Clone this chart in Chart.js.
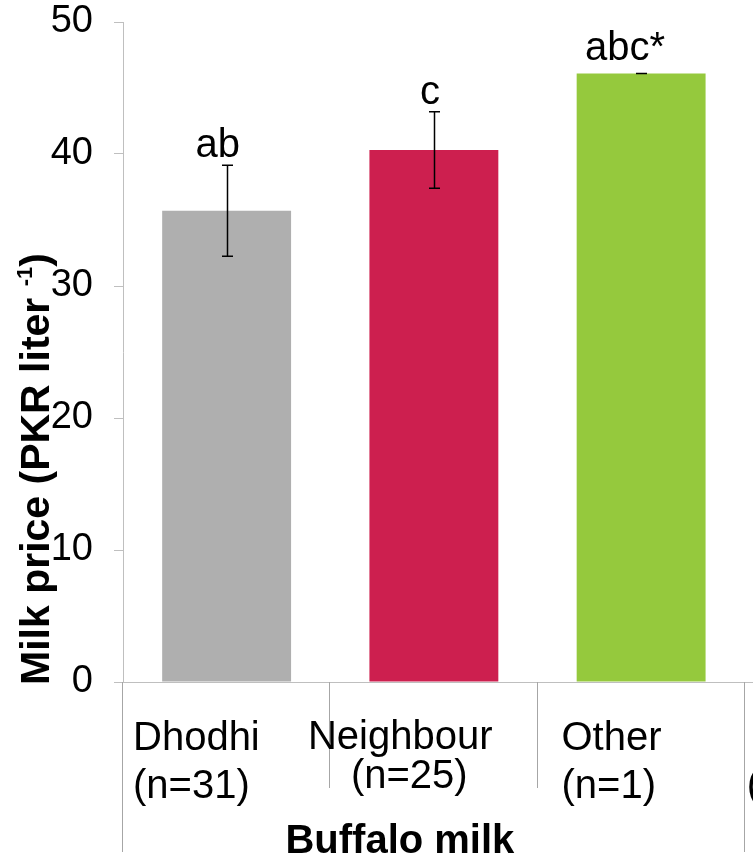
<!DOCTYPE html>
<html>
<head>
<meta charset="utf-8">
<script src="https://cdn.jsdelivr.net/npm/chart.js@4"></script>
<style>
  html, body { margin: 0; padding: 0; background: #fff; }
  #wrap { width: 753px; height: 857px; overflow: hidden; }
</style>
</head>
<body>
<div id="wrap"><canvas id="milkChart" width="952" height="857"></canvas></div>
<script>
// data (4th category is cut off at the right edge)
const categories = [['Dhodhi', '(n=31)'], ['Neighbour', '(n=25)'], ['Other', '(n=1)'], ['', '(']];
const priceMean = [35.7, 40.3, 46.1, null];
const priceSD = [3.45, 2.9, 0, null];
const letters = ['ab', 'c', 'abc*', ''];
const barColors = ['#afafaf', '#cd1f4f', '#95c93d', '#ffffff'];
const yTicks = [0, 10, 20, 30, 40, 50];
const groupTitle = 'Buffalo milk';
const yTitle = 'Milk price (PKR liter';
const yTitleSup = '-1';

const FONT = '"Liberation Sans", Arial, sans-serif';

// how the category labels sit in each slot (excel puts them a bit oddly)
const tickLayout = [
  { align: 'left', dx: [10, 10], base: [68, 116] },
  { align: 'center', dx: [70, 79], base: [67, 106] },
  { align: 'left', dx: [24, 24], base: [68, 116] },
  { align: 'left', dx: [2, 2], base: [68, 116] }
];

const extras = {
  id: 'extras',
  afterDraw(chart) {
    const { ctx, scales: { x, y } } = chart;
    const meta = chart.getDatasetMeta(0);
    const catW = (x.right - x.left) / categories.length;
    const base = y.bottom;
    ctx.save();

    // error bars + letters
    ctx.strokeStyle = '#000';
    ctx.fillStyle = '#000';
    ctx.lineWidth = 1.5;
    ctx.font = '40px ' + FONT;
    ctx.textBaseline = 'alphabetic';
    meta.data.forEach((bar, i) => {
      if (priceMean[i] == null) return;
      const hi = y.getPixelForValue(priceMean[i] + priceSD[i]);
      const lo = y.getPixelForValue(priceMean[i] - priceSD[i]);
      const cx = Math.round(bar.x) + 0.5;
      ctx.beginPath();
      ctx.moveTo(cx, hi); ctx.lineTo(cx, lo);
      ctx.moveTo(cx - 5.5, hi); ctx.lineTo(cx + 5.5, hi);
      ctx.moveTo(cx - 5.5, lo); ctx.lineTo(cx + 5.5, lo);
      ctx.stroke();
      const w = ctx.measureText(letters[i]).width;
      ctx.textAlign = 'left';
      ctx.fillText(letters[i], bar.x - 0.7 * w, hi - (priceSD[i] ? 8 : 13));
    });

    // category separators below the axis
    ctx.strokeStyle = '#a6a6a6';
    ctx.lineWidth = 1;
    for (let i = 0; i <= categories.length; i++) {
      const bx = Math.round(x.left + i * catW) - 0.5;
      const len = i % 3 === 0 ? 170 : 106;
      ctx.beginPath();
      ctx.moveTo(bx, base); ctx.lineTo(bx, base + len);
      ctx.stroke();
    }

    // category labels
    ctx.font = '40px ' + FONT;
    categories.forEach((lines, i) => {
      const t = tickLayout[i];
      const left = x.left + i * catW;
      ctx.textAlign = t.align;
      lines.forEach((s, k) => ctx.fillText(s, left + t.dx[k], base + t.base[k]));
    });

    // group title
    ctx.font = 'bold 40px ' + FONT;
    ctx.textAlign = 'center';
    ctx.fillText(groupTitle, x.left + 1.5 * catW - 34, 853);

    // y axis title with superscript
    ctx.translate(49, 685);
    ctx.rotate(-Math.PI / 2);
    ctx.textAlign = 'left';
    ctx.font = 'bold 41px ' + FONT;
    ctx.fillText(yTitle, 0, 0);
    let pos = ctx.measureText(yTitle + ' ').width;
    ctx.font = 'bold 22px ' + FONT;
    ctx.fillText(yTitleSup, pos, -17);
    pos += ctx.measureText(yTitleSup).width;
    ctx.font = 'bold 41px ' + FONT;
    ctx.fillText(')', pos, 0);

    ctx.restore();
  }
};

new Chart(document.getElementById('milkChart'), {
  type: 'bar',
  data: {
    labels: categories,
    datasets: [{
      data: priceMean,
      backgroundColor: barColors,
      barPercentage: 0.622,
      categoryPercentage: 1
    }]
  },
  options: {
    responsive: false,
    animation: false,
    layout: { padding: { top: 22, left: 0, right: 0, bottom: 0 } },
    plugins: { legend: { display: false }, tooltip: { enabled: false } },
    scales: {
      x: {
        offset: true,
        grid: { display: false },
        border: { color: '#bfbfbf', width: 1 },
        ticks: { display: false },
        afterFit: s => { s.height = 175; }
      },
      y: {
        min: 0,
        max: 50,
        afterBuildTicks: s => { s.ticks = yTicks.map(v => ({ value: v })); },
        ticks: {
          color: '#000',
          padding: 21,
          font: { family: FONT, size: 38 }
        },
        grid: { drawOnChartArea: false, tickLength: 9, color: '#bfbfbf' },
        border: { color: '#bfbfbf', width: 1 },
        afterFit: s => { s.width = 123; s.paddingTop = 0; s.paddingBottom = 0; }
      }
    }
  },
  plugins: [extras]
});
</script>
</body>
</html>
